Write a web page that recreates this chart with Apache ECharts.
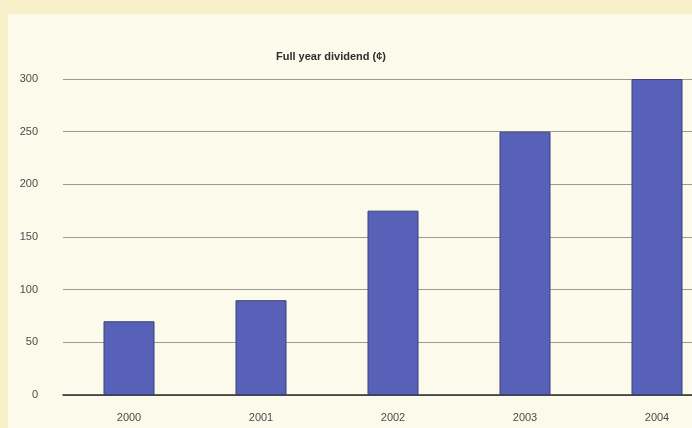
<!DOCTYPE html>
<html>
<head>
<meta charset="utf-8">
<script src="https://cdn.jsdelivr.net/npm/echarts@6/dist/echarts.min.js"></script>
<style>
html,body{margin:0;padding:0;background:#f8f0c8;overflow:hidden;width:692px;height:428px;}
#chart{width:760px;height:428px;}
</style>
</head>
<body>
<div id="chart"></div>
<script>
const titleText = 'Full year dividend (¢)';
const categories = ['2000', '2001', '2002', '2003', '2004'];
const dividend = [70, 90, 175, 250, 300];
const yTicks = [0, 50, 100, 150, 200, 250, 300];

const chart = echarts.init(document.getElementById('chart'), null, {renderer: 'canvas'});
chart.setOption({
  animation: false,
  backgroundColor: '#f8f0c8',
  graphic: [{
    type: 'rect', z: -10, silent: true,
    shape: {x: 8, y: 14, width: 760, height: 414},
    style: {fill: '#fcfaea'}
  }],
  title: {
    text: titleText,
    left: 326, top: 46, textAlign: 'center',
    textStyle: {fontFamily: 'Liberation Sans, Arial, sans-serif', fontSize: 11, fontWeight: 'bold', color: '#2e2e2e'}
  },
  grid: {left: 63, width: 660, top: 79, bottom: 33, containLabel: false},
  xAxis: {
    type: 'category',
    data: categories,
    axisLine: {show: true, lineStyle: {color: '#2a2a2a', width: 1.5}},
    axisTick: {show: false},
    axisLabel: {color: '#4a4a4a', fontSize: 11, margin: 17, fontFamily: 'Liberation Sans, Arial, sans-serif'}
  },
  yAxis: {
    type: 'value',
    min: yTicks[0], max: yTicks[yTicks.length - 1], interval: 50,
    axisLine: {show: false},
    axisTick: {show: false},
    axisLabel: {color: '#4a4a4a', fontSize: 11, margin: 25, fontFamily: 'Liberation Sans, Arial, sans-serif'},
    splitLine: {lineStyle: {color: '#9a9a92', width: 1}}
  },
  series: [{
    type: 'bar',
    data: dividend,
    barWidth: 51,
    itemStyle: {color: '#5761b7', borderColor: '#3c4178', borderWidth: 1}
  }]
});
</script>
</body>
</html>
